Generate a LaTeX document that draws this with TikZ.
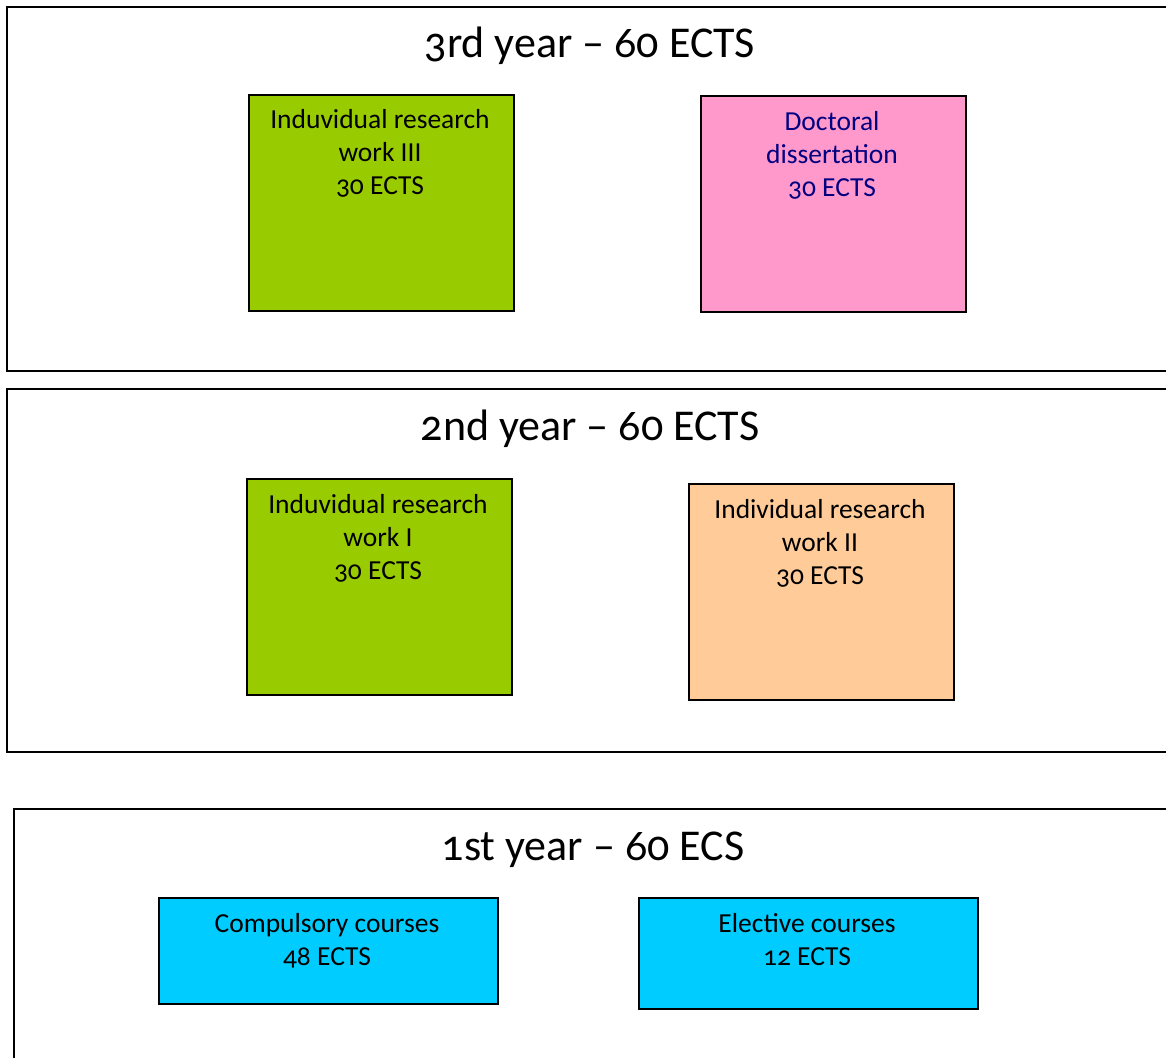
\documentclass[tikz,border=0pt]{standalone}
\usepackage{fontspec}
\setmainfont{Carlito}[Numbers=OldStyle]
\definecolor{grn}{HTML}{99CC00}
\definecolor{pnk}{HTML}{FF99CC}
\definecolor{pch}{HTML}{FFCC99}
\definecolor{cyn}{HTML}{00CCFF}
\definecolor{navy}{HTML}{000080}
\begin{document}
\begin{tikzpicture}[x=1pt,y=-1pt,
  yearbox/.style={draw=black,line width=2pt},
  course/.style={draw=black,line width=1.6pt,anchor=north west,inner sep=0pt},
  title/.style={font=\fontsize{44}{50}\selectfont,anchor=base,inner sep=0pt},
  ctext/.style={font=\fontsize{27.5}{33}\selectfont,align=center,anchor=base,inner sep=0pt}]
\useasboundingbox (0,0) rectangle (1166,1057);
\clip (0,0) rectangle (1166,1057);
% year boxes
\draw[yearbox] (7,7) rectangle (1190,371);
\draw[yearbox] (7,389) rectangle (1190,752);
\draw[yearbox] (14,809) rectangle (1190,1090);
\node[title] (t3) at (590,58) {3rd year – 60 ECTS};
\node[title] (t2) at (590,440) {2nd year – 60 ECTS};
\node[title] (t1) at (593,860) {1st year – 60 ECS};
% 3rd year
\node[course,fill=grn,minimum width=265pt,minimum height=216pt] (g3) at (248,94) {};
\node[ctext] (g3t) at (380,194) {Induvidual research\\work III\\30 ECTS};
\node[course,fill=pnk,minimum width=265pt,minimum height=216pt] (pk) at (700,95) {};
\node[ctext,text=navy] (pkt) at (832,196) {Doctoral\\dissertation\\30 ECTS};
% 2nd year
\node[course,fill=grn,minimum width=265pt,minimum height=216pt] (g1) at (246,478) {};
\node[ctext] (g1t) at (378,579) {Induvidual research\\work I\\30 ECTS};
\node[course,fill=pch,minimum width=265pt,minimum height=216pt] (or) at (688,483) {};
\node[ctext] (ort) at (820,584) {Individual research\\work II\\30 ECTS};
% 1st year
\node[course,fill=cyn,minimum width=339pt,minimum height=106pt] (c1) at (158,897) {};
\node[ctext] (c1t) at (327,965) {Compulsory courses\\48 ECTS};
\node[course,fill=cyn,minimum width=339pt,minimum height=111pt] (c2) at (638,897) {};
\node[ctext] (c2t) at (807,965) {Elective courses\\12 ECTS};
\end{tikzpicture}
\end{document}
